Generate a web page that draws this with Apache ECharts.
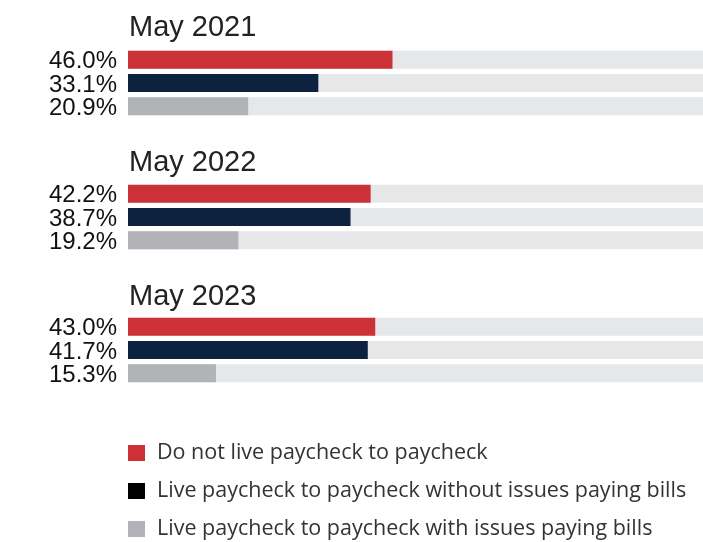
<!DOCTYPE html>
<html>
<head>
<meta charset="utf-8">
<script src="https://cdn.jsdelivr.net/npm/echarts@6/dist/echarts.min.js"></script>
<style>html,body{margin:0;padding:0;background:#fff}#c{width:703px;height:542px}</style>
</head>
<body>
<div id="c"></div>
<script>
const years = ['May 2021', 'May 2022', 'May 2023'];
const seriesNames = [
  'Do not live paycheck to paycheck',
  'Live paycheck to paycheck without issues paying bills',
  'Live paycheck to paycheck with issues paying bills'
];
const notPaycheck = [46.0, 42.2, 43.0];
const withoutIssues = [33.1, 38.7, 41.7];
const withIssues = [20.9, 19.2, 15.3];

const values = [notPaycheck, withoutIssues, withIssues];
const colors = ['#cc3138', '#0c223e', '#b1b3b6'];
const legendColors = ['#cc3138', '#000000', '#b1b3b6'];
const gridTops = [48, 182, 315];
const titleTops = [13, 148, 282];

const grids = [], xAxes = [], yAxes = [], titles = [], series = [];
years.forEach((yr, g) => {
  grids.push({ left: 128, right: 0, top: gridTops[g], height: 70 });
  xAxes.push({ type: 'value', gridIndex: g, min: 0, max: 100, show: false });
  yAxes.push({ type: 'category', gridIndex: g, inverse: true, data: seriesNames, show: false });
  titles.push({
    text: yr, left: 129, top: titleTops[g], padding: 0,
    textStyle: { fontFamily: 'Liberation Sans', fontSize: 29, fontWeight: 'normal', color: '#222' }
  });
  seriesNames.forEach((name, s) => {
    const data = seriesNames.map((_, k) => (k === s ? values[s][g] : null));
    series.push({
      type: 'bar', name: name, xAxisIndex: g, yAxisIndex: g,
      data: data, barWidth: 18, barGap: '-100%',
      itemStyle: { color: colors[s] },
      showBackground: s === 0,
      backgroundStyle: { color: '#e6e7e9' },
      label: {
        show: true, position: 'left', distance: 11, offset: [0, 2],
        fontFamily: 'Liberation Sans', fontSize: 24, color: '#111',
        formatter: p => p.value.toFixed(1) + '%'
      },
      emphasis: { disabled: true },
      animation: false
    });
  });
});

const chart = echarts.init(document.getElementById('c'));
chart.setOption({
  animation: false,
  title: titles,
  grid: grids,
  xAxis: xAxes,
  yAxis: yAxes,
  legend: {
    orient: 'vertical', left: 128, top: 442, padding: 0,
    itemWidth: 17, itemHeight: 16, itemGap: 16,
    icon: 'rect',
    data: seriesNames.map((n, i) => ({ name: n, itemStyle: { color: legendColors[i] } })),
    textStyle: { fontFamily: 'Open Sans', fontSize: 21.5, lineHeight: 21.5, color: '#333', padding: [0, 0, 0, 7] },
    selectedMode: false
  },
  series: series
});
</script>
</body>
</html>
